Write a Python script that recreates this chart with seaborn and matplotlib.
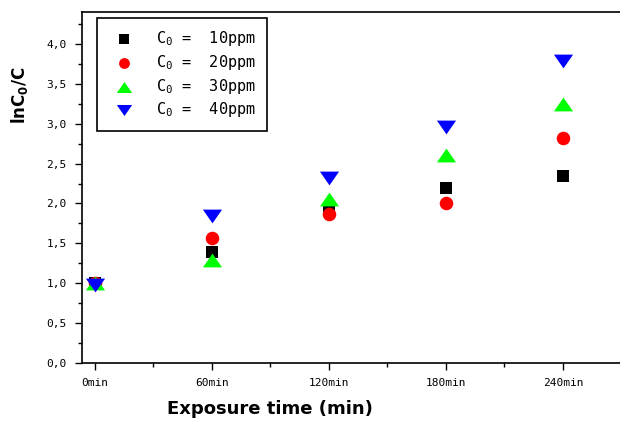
import numpy as np
import pandas as pd
import seaborn as sns
import matplotlib.pyplot as plt
from matplotlib.ticker import FixedLocator, FuncFormatter, MultipleLocator

times = ["0min", "60min", "120min", "180min", "240min"]
series = ["C$_0$ =  10ppm", "C$_0$ =  20ppm", "C$_0$ =  30ppm", "C$_0$ =  40ppm"]
c10 = [1.00, 1.39, 1.93, 2.19, 2.34]
c20 = [1.00, 1.57, 1.87, 2.01, 2.82]
c30 = [1.00, 1.29, 2.05, 2.61, 3.25]
c40 = [0.98, 1.84, 2.32, 2.96, 3.79]
colors = ["#000000", "#ff0000", "#00ff00", "#0000ff"]

rows = []
for name, vals in zip(series, [c10, c20, c30, c40]):
    for i, v in enumerate(vals):
        rows.append({"pos": i, "value": v, "series": name})
df = pd.DataFrame(rows)

sns.set_style("ticks")
plt.rcParams["font.family"] = ["DejaVu Sans"]
plt.rcParams["mathtext.default"] = "regular"
plt.rcParams["text.color"] = "black"
plt.rcParams["axes.labelcolor"] = "black"
plt.rcParams["xtick.color"] = "black"
plt.rcParams["ytick.color"] = "black"

fig = plt.figure(figsize=(6.2, 4.21), dpi=100)
ax = fig.add_axes([0.1323, 0.1378, 0.889, 0.8337])

up = [(-1, -0.72), (1, -0.72), (0, 0.72)]
down = [(-1, 0.72), (1, 0.72), (0, -0.72)]
markers = dict(zip(series, ["s", "o", up, down]))
sizes = dict(zip(series, [85, 95, 190, 190]))

for name in series:
    sub = df[df["series"] == name]
    sns.scatterplot(data=sub, x="pos", y="value", ax=ax, color=colors[series.index(name)],
                    marker=markers[name], s=sizes[name], linewidth=0, label=name)

ax.set_xlim(-0.11, 4.6)
ax.set_ylim(0, 4.4)
ax.xaxis.set_major_locator(FixedLocator(range(len(times))))
ax.xaxis.set_minor_locator(FixedLocator(np.arange(0.5, 4.6, 1.0)))
ax.set_xticklabels(times)
ax.yaxis.set_major_locator(MultipleLocator(0.5))
ax.yaxis.set_minor_locator(MultipleLocator(0.25))
ax.yaxis.set_major_formatter(FuncFormatter(lambda v, p: f"{v:.1f}".replace(".", ",")))
ax.tick_params(which="major", direction="out", length=5, width=1, labelsize=8, color="black")
ax.tick_params(which="minor", direction="out", length=3, width=1, color="black")
ax.tick_params(axis="x", which="both", top=False, pad=6)
ax.tick_params(axis="y", which="both", right=False, pad=6)
for lab in ax.get_xticklabels() + ax.get_yticklabels():
    lab.set_fontfamily("DejaVu Sans Mono")
for sp in ax.spines.values():
    sp.set_linewidth(1.2)
    sp.set_color("black")
    sp.set_visible(True)

ax.set_xlabel("Exposure time (min)", fontsize=13, fontweight="bold")
ax.xaxis.set_label_coords(0.341, -0.105)
ax.set_ylabel(r"lnC$_\mathbf{0}$/C", fontsize=12, fontweight="bold")
ax.yaxis.set_label_coords(-0.095, 0.764)

leg = ax.legend(loc="upper left", bbox_to_anchor=(0.027, 0.983), borderaxespad=0,
                frameon=True, fancybox=False, edgecolor="black",
                prop={"family": "DejaVu Sans Mono", "size": 11},
                handletextpad=1.1, labelspacing=0.3, borderpad=0.75, handlelength=2.0,
                markerscale=0.8)
leg.get_frame().set_linewidth(1.2)
leg.get_frame().set_alpha(1)

fig.savefig("out.png", dpi=100)
